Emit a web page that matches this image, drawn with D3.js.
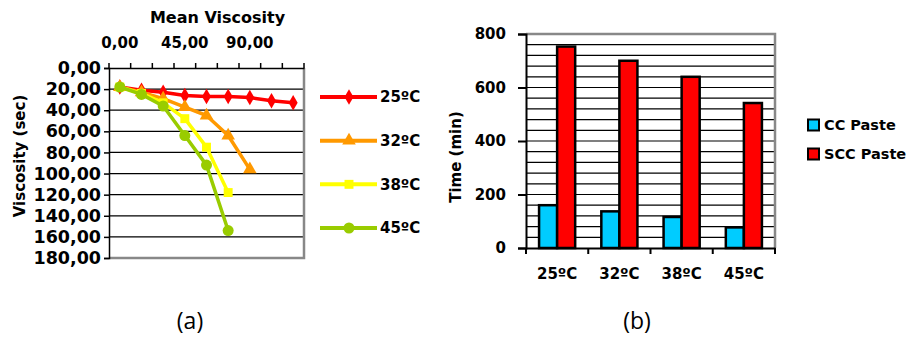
<!DOCTYPE html>
<html><head><meta charset="utf-8">
<script src="https://cdn.jsdelivr.net/npm/d3@7"></script>
<style>body{margin:0;background:#fff}svg{display:block}</style>
</head><body><svg id="c" width="911" height="338"></svg>
<script>
// ---- Chart (a) data ----
const viscCategories = ["0,00","15,00","30,00","45,00","60,00","75,00","90,00","105,00","120,00"];
const viscShownLabels = ["0,00","45,00","90,00"];
const viscYTicks = [0,20,40,60,80,100,120,140,160,180];
const series25 = [18,21,23,26,27,27,28,31,33];
const series32 = [18,23,29,37,45,64,96];
const series38 = [18,24,33,48,75,118];
const series45 = [18,25,36,64,92,154];
const seriesNames = ["25ºC","32ºC","38ºC","45ºC"];
const seriesColors = ["#FF0000","#FF9900","#FFFF00","#99CC00"];
const seriesSymbols = ["diamond","triangle","square","circle"];

// ---- Chart (b) data ----
const temps = ["25ºC","32ºC","38ºC","45ºC"];
const ccPaste = [160,137,116,77];
const sccPaste = [753,700,640,542];
const barSeries = ["CC Paste","SCC Paste"];
const barColors = ["#00CCFF","#FF0000"];
const timeTicks = [0,200,400,600,800];
const timeGrid = d3.range(0,801,40);

const svg = d3.select("#c");
const F = "DejaVu Sans";

// ================= Chart (a) =================
const A = {l:109, r:304, t:68, b:258};
const xA = d3.scaleBand().domain(viscCategories).range([A.l, A.r]);
const yA = d3.scaleLinear().domain([0,180]).range([A.t, A.b]);
const gA = svg.append("g");

// gridlines
gA.selectAll("line.grid").data(viscYTicks.filter(v=>v>0 && v<180)).join("line")
  .attr("x1",A.l).attr("x2",A.r).attr("y1",d=>yA(d)).attr("y2",d=>yA(d))
  .attr("stroke","#000").attr("stroke-width",1.2);
// plot border (gray right & bottom)
gA.append("path").attr("d",`M${A.r},${A.t}V${A.b}H${A.l}`).attr("fill","none").attr("stroke","#888").attr("stroke-width",2.5);

// top axis
const topAxis = d3.axisTop(xA).tickSize(0).tickFormat(d=>viscShownLabels.includes(d)?d:"");
const gTop = gA.append("g").attr("transform",`translate(0,${A.t})`).call(topAxis);
gTop.select(".domain").attr("stroke","#000").attr("stroke-width",1.5);
gTop.selectAll("text").attr("font-family",F).attr("font-weight","bold").attr("font-size",15).attr("fill","#000").attr("y",-20);
// boundary ticks
const bounds = viscCategories.map(c=>xA(c)).concat([A.r]);
gA.selectAll("line.tt").data(bounds).join("line")
  .attr("x1",d=>d).attr("x2",d=>d).attr("y1",A.t).attr("y2",A.t-5).attr("stroke","#000").attr("stroke-width",1.5);

// left axis
const leftAxis = d3.axisLeft(yA).tickValues(viscYTicks).tickSize(5).tickPadding(3)
  .tickFormat(d=>d3.format(".2f")(d).replace(".",","));
const gL = gA.append("g").attr("transform",`translate(${A.l},0)`).call(leftAxis);
gL.select(".domain").attr("stroke","#000").attr("stroke-width",1.5);
gL.selectAll(".tick line").attr("stroke","#000").attr("stroke-width",1.5);
gL.selectAll("text").attr("font-family",F).attr("font-weight","bold").attr("font-size",17.5).attr("fill","#000");

// titles
gA.append("text").attr("x",(A.l+A.r)/2+11).attr("y",23).attr("text-anchor","middle")
  .attr("font-family",F).attr("font-weight","bold").attr("font-size",16).text("Mean Viscosity");
gA.append("text").attr("transform",`translate(25,156) rotate(-90)`).attr("text-anchor","middle")
  .attr("font-family",F).attr("font-weight","bold").attr("font-size",15).text("Viscosity (sec)");

// series
const allSeries = [series25,series32,series38,series45];
const symType = {diamond:d3.symbolDiamond, triangle:d3.symbolTriangle, square:d3.symbolSquare, circle:d3.symbolCircle};
const symSize = {diamond:70, triangle:80, square:80, circle:95};
const cx = i => xA(viscCategories[i]) + xA.bandwidth()/2;
const line = d3.line().x((d,i)=>cx(i)).y(d=>yA(d));
allSeries.forEach((s,k)=>{
  const g = gA.append("g");
  g.append("path").datum(s).attr("d",line).attr("fill","none").attr("stroke",seriesColors[k]).attr("stroke-width",3.5).attr("stroke-linejoin","round");
  g.selectAll("path.m").data(s).join("path").attr("class","m")
    .attr("transform",(d,i)=>`translate(${cx(i)},${yA(d)})`)
    .attr("d",d3.symbol().type(symType[seriesSymbols[k]]).size(symSize[seriesSymbols[k]]))
    .attr("fill",seriesColors[k]);
});

// legend (a)
const legY = d3.scalePoint().domain(seriesNames).range([97,228]);
const lg = gA.append("g");
seriesNames.forEach((n,k)=>{
  const y = legY(n);
  lg.append("line").attr("x1",320).attr("x2",377).attr("y1",y).attr("y2",y).attr("stroke",seriesColors[k]).attr("stroke-width",4);
  lg.append("path").attr("transform",`translate(349,${y})`).attr("d",d3.symbol().type(symType[seriesSymbols[k]]).size(symSize[seriesSymbols[k]])).attr("fill",seriesColors[k]);
  lg.append("text").attr("x",380).attr("y",y).attr("dy","0.36em").attr("font-family",F).attr("font-weight","bold").attr("font-size",15).text(n);
});

svg.append("text").attr("x",190).attr("y",329).attr("text-anchor","middle").attr("font-family","Open Sans").attr("font-size",23).text("(a)");

// ================= Chart (b) =================
const B = {l:526, r:775, t:34, b:248};
const xB = d3.scaleBand().domain(temps).range([B.l,B.r]).paddingInner(0.42).paddingOuter(0.21);
const xBo = d3.scaleBand().domain(temps).range([B.l,B.r]);
const xS = d3.scaleBand().domain(barSeries).range([0,xB.bandwidth()]);
const yB = d3.scaleLinear().domain([0,800]).range([B.b,B.t]);
const gB = svg.append("g");

gB.selectAll("line.grid").data(timeGrid.filter(v=>v>0 && v<800)).join("line")
  .attr("x1",B.l).attr("x2",B.r).attr("y1",d=>yB(d)).attr("y2",d=>yB(d))
  .attr("stroke","#000").attr("stroke-width",1.2);
gB.append("path").attr("d",`M${B.l},${B.t}H${B.r}V${B.b}`).attr("fill","none").attr("stroke","#888").attr("stroke-width",2.5);

const barData = temps.flatMap((t,i)=>[{t,s:barSeries[0],v:ccPaste[i],c:barColors[0]},{t,s:barSeries[1],v:sccPaste[i],c:barColors[1]}]);
gB.selectAll("rect.bar").data(barData).join("rect")
  .attr("x",d=>xB(d.t)+xS(d.s)).attr("width",xS.bandwidth())
  .attr("y",d=>yB(d.v)).attr("height",d=>yB(0)-yB(d.v))
  .attr("fill",d=>d.c).attr("stroke","#000").attr("stroke-width",2.5);

const gBx = gB.append("g").attr("transform",`translate(0,${B.b})`).call(d3.axisBottom(xBo).tickSize(0).tickPadding(20));
gBx.select(".domain").attr("stroke","#000").attr("stroke-width",2);
gBx.selectAll("text").attr("font-family",F).attr("font-weight","bold").attr("font-size",15).attr("fill","#000");
const bBounds = temps.map(t=>xBo(t)).concat([B.r]);
gB.selectAll("line.bt").data(bBounds).join("line")
  .attr("x1",d=>d).attr("x2",d=>d).attr("y1",B.b).attr("y2",B.b+6).attr("stroke","#000").attr("stroke-width",2);

const gBy = gB.append("g").attr("transform",`translate(${B.l},0)`).call(d3.axisLeft(yB).tickValues(timeTicks).tickSize(8).tickPadding(12));
gBy.select(".domain").attr("stroke","#000").attr("stroke-width",2);
gBy.selectAll(".tick line").attr("stroke","#000").attr("stroke-width",2);
gBy.selectAll("text").attr("font-family",F).attr("font-weight","bold").attr("font-size",15).attr("fill","#000");

gB.append("text").attr("transform",`translate(461,157) rotate(-90)`).attr("text-anchor","middle")
  .attr("font-family",F).attr("font-weight","bold").attr("font-size",15).text("Time (min)");

const legB = d3.scalePoint().domain(barSeries).range([125,154]);
barSeries.forEach((n,k)=>{
  const y = legB(n);
  gB.append("rect").attr("x",808).attr("y",y-5.5).attr("width",11).attr("height",11).attr("fill",barColors[k]).attr("stroke","#000").attr("stroke-width",2);
  gB.append("text").attr("x",824).attr("y",y).attr("dy","0.36em").attr("font-family",F).attr("font-weight","bold").attr("font-size",14.5).text(n);
});

svg.append("text").attr("x",637).attr("y",329).attr("text-anchor","middle").attr("font-family","Open Sans").attr("font-size",23).text("(b)");
</script></body></html>
